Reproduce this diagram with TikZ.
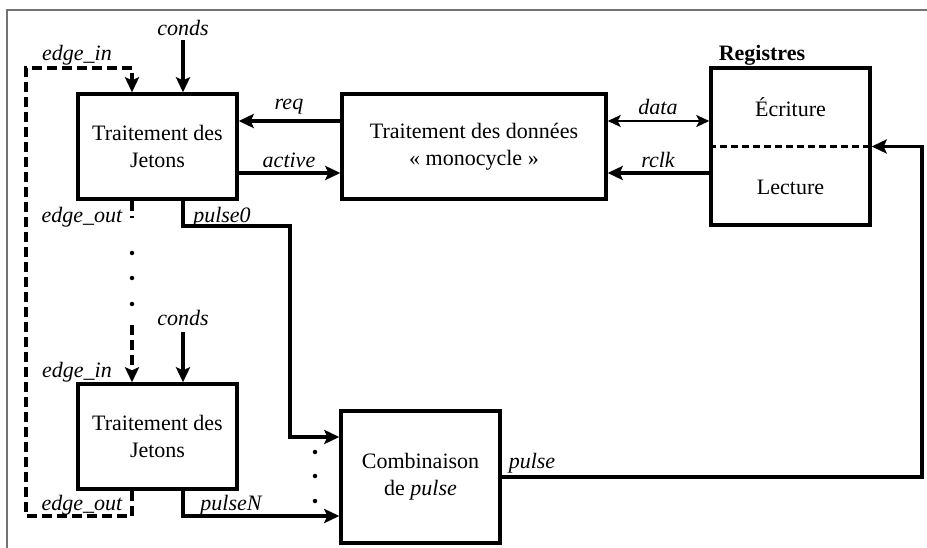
\documentclass[tikz,border=0pt]{standalone}
\usepackage{fontspec}
\setmainfont{Liberation Serif}
\usetikzlibrary{arrows.meta}
\begin{document}
\begin{tikzpicture}[x=1pt,y=-1pt,
  every node/.style={font=\fontsize{22}{27}\selectfont, inner sep=0pt},
  block/.style={draw, line width=3.4pt, align=center},
  lab/.style={font=\fontsize{22}{27}\selectfont\itshape},
  wire/.style={line width=3.4pt},
  arr/.style={wire, -{Stealth[length=15pt,width=14pt,inset=3pt]}},
  darr/.style={line width=2pt, {Stealth[length=13pt,width=12pt,inset=3pt]}-{Stealth[length=13pt,width=12pt,inset=3pt]}},
  dashwire/.style={line width=3.2pt, dash pattern=on 10pt off 5pt},
  dashed arr/.style={dashwire, -{Stealth[length=15pt,width=14pt,inset=3pt]}},
  dot/.style={circle, fill, inner sep=0pt, minimum size=4.5pt},
]
\useasboundingbox (0,0) rectangle (927,548);

% page frame
\draw[black!55, line width=1.5pt] (927,10) -- (7,10) -- (7,548);

% blocks
\node[block, minimum width=159pt, minimum height=105pt] (J1) at (157.5,146.5) {Traitement des\\Jetons};
\node[block, minimum width=159pt, minimum height=105pt] (J2) at (157.5,436.5) {Traitement des\\Jetons};
\node[block, minimum width=264pt, minimum height=105pt] (D) at (474,146.5) {Traitement des données\\« monocycle »};
\node[block, minimum width=159pt, minimum height=132pt] (C) at (420.5,477) {Combinaison\\de \textit{pulse}};
\node[block, minimum width=159pt, minimum height=157pt] (R) at (790.5,146.5) {};
\node (Rw) at (790.5,107) {Écriture};
\node (Rr) at (790.5,187) {Lecture};
\node[font=\fontsize{22}{27}\selectfont\bfseries] (Rt) at (762,55) {Registres};
\draw[line width=2.2pt, dash pattern=on 7pt off 4pt] (R.west) -- (R.east);

% reference coordinates
\coordinate (yReq) at (0,121);
\coordinate (yAct) at (0,173);
\coordinate (c1) at (183,40);
\coordinate (c2) at (183,332);
\coordinate (xE) at (132,0);
\coordinate (lt) at (26,68);
\coordinate (lb) at (26,516);
\coordinate (eStub) at (132,218);
\coordinate (eRes) at (132,325);
\coordinate (p0a) at (290,226);
\coordinate (p0b) at (290,437);
\coordinate (pN) at (183,516);
\coordinate (pR) at (922,477);

% links between processing blocks and registers
\draw[arr] (D.west |- yReq) -- (J1.east |- yReq);
\draw[arr] (J1.east |- yAct) -- (D.west |- yAct);
\draw[darr] (D.east |- yReq) -- (R.west |- yReq);
\draw[arr] (R.west |- yAct) -- (D.east |- yAct);
\node[lab] (lreq) at (289,107) {req};
\node[lab] (lact) at (289,160) {active};
\node[lab] (ldata) at (658,107) {data};
\node[lab] (lrclk) at (658,160) {rclk};

% conditions
\draw[arr] (c1) -- (c1 |- J1.north);
\draw[arr] (c2) -- (c2 |- J2.north);
\node[lab] (lc1) at (183,28) {conds};
\node[lab] (lc2) at (183,318) {conds};

% token chain (dashed)
\draw[dashed arr] (J2.south -| xE) -- (xE |- lb) -- (lb) -- (lt) -- (xE |- lt) -- (xE |- J1.north);
\draw[dashwire] (J1.south -| xE) -- (eStub);
\draw[dashed arr] (eRes) -- (xE |- J2.north);
\node[dot] (d1) at (132,253) {};
\node[dot] (d2) at (132,278) {};
\node[dot] (d3) at (132,304) {};
\node[lab] (lei1) at (77,55) {edge\_in};
\node[lab] (leo1) at (82,217) {edge\_out};
\node[lab] (lei2) at (77,372) {edge\_in};
\node[lab] (leo2) at (82,505) {edge\_out};

% pulses
\draw[arr] (J1.south -| c1) |- (p0a) -- (p0b) -- (C.west |- p0b);
\draw[arr] (J2.south -| c2) -- (pN) -- (C.west |- pN);
\node[lab] (lp0) at (222,217) {pulse0};
\node[lab] (lpN) at (231,505) {pulseN};
\node[dot] (e1) at (315,452) {};
\node[dot] (e2) at (315,476) {};
\node[dot] (e3) at (315,501) {};

% combined pulse back to the registers
\draw[arr] (C.east) -- (pR) |- (R.east);
\node[lab] (lp) at (532,463) {pulse};
\end{tikzpicture}
\end{document}
